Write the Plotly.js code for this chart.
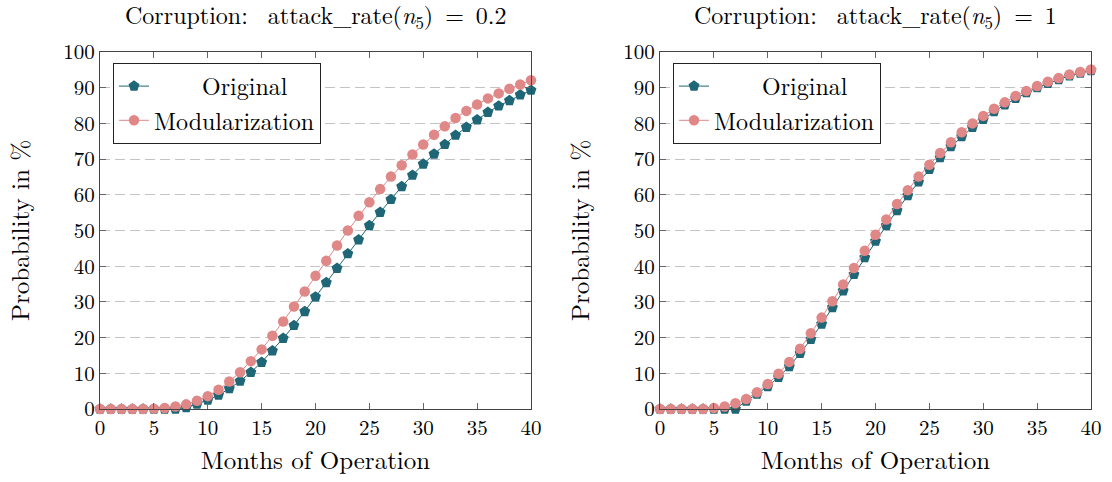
<!DOCTYPE html>
<html>
<head>
<meta charset="utf-8">
<script src="https://cdn.plot.ly/plotly-3.0.1.min.js"></script>
<style>
html,body{margin:0;padding:0;background:#fff;}
#chart{width:1112px;height:482px;}
</style>
</head>
<body>
<div id="chart"></div>
<script>
const months = [0,1,2,3,4,5,6,7,8,9,10,11,12,13,14,15,16,17,18,19,20,21,22,23,24,25,26,27,28,29,30,31,32,33,34,35,36,37,38,39,40];

const leftOriginal = [0,0,0,0,0,0,0,0,0.4,1.4,2.5,3.9,5.7,7.8,10.3,13.1,16.3,19.8,23.4,27.3,31.4,35.4,39.4,43.5,47.4,51.4,55.1,58.7,62.3,65.5,68.6,71.4,74.1,76.7,78.9,81.0,83.1,84.9,86.4,88.0,89.3];
const leftModular = [0,0,0,0,0,0.1,0.3,0.7,1.3,2.3,3.6,5.4,7.7,10.3,13.4,16.7,20.5,24.5,28.7,32.9,37.3,41.5,45.8,50.0,54.1,57.9,61.6,65.1,68.3,71.3,74.1,76.8,79.2,81.5,83.5,85.3,87.0,88.4,89.7,90.9,92.1];

const rightOriginal = [0,0,0,0,0,0,0,0,2.2,4.2,6.3,8.9,11.9,15.6,19.5,23.8,28.4,33.1,37.7,42.4,47.0,51.4,55.6,59.8,63.6,67.1,70.4,73.5,76.3,78.9,81.1,83.3,85.2,87.0,88.6,90.0,91.2,92.3,93.3,94.1,94.8];
const rightModular = [0,0,0,0,0,0.3,0.7,1.6,2.8,4.7,7.0,9.9,13.2,16.9,21.2,25.6,30.2,34.9,39.5,44.3,48.8,53.1,57.4,61.3,65.1,68.4,71.7,74.7,77.5,80.0,82.1,84.1,85.9,87.7,89.1,90.5,91.7,92.7,93.7,94.4,95.1];

const seriesNames = ["Original", "Modularization"];
const titles = ["Corruption:\u00a0 attack_rate(<i>n</i><sub>5</sub>)\u00a0=\u00a00.2", "Corruption:\u00a0 attack_rate(<i>n</i><sub>5</sub>)\u00a0=\u00a01"];
const xTitle = "Months of Operation";
const yTitle = "Probability in %";

const teal = "#1f6677";
const pink = "#e08787";
const FONT = "Latin Modern Roman, CMU Serif, Liberation Serif, serif";

function tr(y, name, color, symbol, size, xa, ya, leg) {
  return {
    x: months, y: y, name: name, type: "scatter", mode: "lines+markers",
    xaxis: xa, yaxis: ya, legend: leg, cliponaxis: false,
    line: {color: color, width: 1},
    marker: {color: color, symbol: symbol, size: size, line: {width: 0}}
  };
}

const pad = "\u00a0\u00a0\u00a0\u00a0";
const data = [
  tr(leftOriginal, pad + seriesNames[0], teal, "pentagon", 11.5, "x", "y", "legend"),
  tr(leftModular, seriesNames[1], pink, "circle", 10.5, "x", "y", "legend"),
  tr(rightOriginal, pad + seriesNames[0], teal, "pentagon", 11.5, "x2", "y2", "legend2"),
  tr(rightModular, seriesNames[1], pink, "circle", 10.5, "x2", "y2", "legend2")
];

function xax(domain, anchor) {
  return {
    domain: domain, anchor: anchor, range: [0, 40], dtick: 5, tick0: 0,
    showline: true, linecolor: "#444", linewidth: 1, mirror: "ticks",
    ticks: "inside", ticklen: 6, tickcolor: "#666",
    showgrid: false, zeroline: false,
    tickfont: {family: FONT, size: 21, color: "#000"},
    title: {text: xTitle, font: {family: FONT, size: 25, color: "#000"}, standoff: 9},
    automargin: false
  };
}
function yax(domain, anchor) {
  return {
    domain: domain, anchor: anchor, range: [0, 100], dtick: 10, tick0: 0,
    showline: true, linecolor: "#444", linewidth: 1, mirror: "ticks",
    ticks: "inside", ticklen: 6, tickcolor: "#666",
    showgrid: true, gridcolor: "#c4c4c4", griddash: "10px,5px", gridwidth: 1,
    zeroline: false,
    tickfont: {family: FONT, size: 21, color: "#000"},
    title: {text: yTitle, font: {family: FONT, size: 25, color: "#000"}, standoff: 26},
    automargin: false
  };
}

const yDom = [1 - 409/482, 1 - 52/482];
const legendBase = {
  bgcolor: "#fff", bordercolor: "#222", borderwidth: 1,
  font: {family: FONT, size: 24, color: "#000"},
  xanchor: "left", yanchor: "top", tracegroupgap: 0, itemwidth: 30
};

const layout = {
  width: 1112, height: 482,
  margin: {l: 0, r: 0, t: 0, b: 0},
  paper_bgcolor: "#fff", plot_bgcolor: "#fff",
  xaxis: xax([100/1112, 531/1112], "y"),
  yaxis: yax(yDom, "x"),
  xaxis2: xax([660/1112, 1091/1112], "y2"),
  yaxis2: yax(yDom, "x2"),
  legend: Object.assign({}, legendBase, {x: 113/1112, y: 1 - 63/482}),
  legend2: Object.assign({}, legendBase, {x: 673/1112, y: 1 - 63/482}),
  annotations: [
    {text: titles[0], xref: "paper", yref: "paper", x: (100+531)/2/1112, y: 1 - 16/482, xanchor: "center", yanchor: "middle", showarrow: false, font: {family: FONT, size: 24, color: "#000"}},
    {text: titles[1], xref: "paper", yref: "paper", x: (660+1091)/2/1112, y: 1 - 16/482, xanchor: "center", yanchor: "middle", showarrow: false, font: {family: FONT, size: 24, color: "#000"}}
  ],
  showlegend: true
};

Plotly.newPlot("chart", data, layout, {displayModeBar: false, staticPlot: true});
</script>
</body>
</html>
